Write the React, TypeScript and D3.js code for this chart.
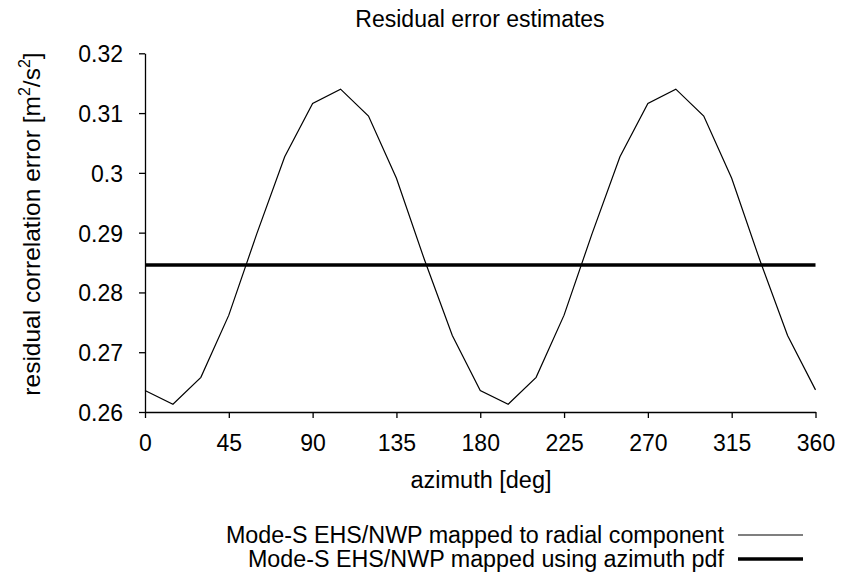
import React, { useEffect, useRef } from "react";
import * as d3 from "d3";

const azimuth = [0, 15, 30, 45, 60, 75, 90, 105, 120, 135, 150, 165, 180, 195, 210, 225, 240, 255, 270, 285, 300, 315, 330, 345, 360];
const radialError = [0.2636, 0.2613, 0.2658, 0.2762, 0.2898, 0.3027, 0.3116, 0.314, 0.3095, 0.2991, 0.2855, 0.2728, 0.2636, 0.2613, 0.2658, 0.2762, 0.2898, 0.3027, 0.3116, 0.314, 0.3095, 0.2991, 0.2855, 0.2728, 0.2637];
const pdfError = 0.2846;
const xTicks = [0, 45, 90, 135, 180, 225, 270, 315, 360];
const yTicks = [0.26, 0.27, 0.28, 0.29, 0.3, 0.31, 0.32];
const seriesNames = ["Mode-S EHS/NWP mapped to radial component", "Mode-S EHS/NWP mapped using azimuth pdf"];

const W = 841;
const H = 572;
const FONT = "'Liberation Sans', Arial, Helvetica, sans-serif";

export default function App() {
  const ref = useRef<SVGSVGElement>(null);
  useEffect(() => {
    const svg = d3.select(ref.current);
    svg.selectAll("*").remove();
    const x = d3.scaleLinear().domain([0, 360]).range([145, 815.5]);
    const y = d3.scaleLinear().domain([0.26, 0.32]).range([412, 53.3]);

    const gx = svg.append("g").attr("transform", `translate(0,${y(0.26)})`)
      .call(d3.axisBottom(x).tickValues(xTicks).tickSize(6).tickSizeOuter(0).tickPadding(17).tickFormat(d3.format("d")));
    const gy = svg.append("g").attr("transform", `translate(${x(0)},0)`)
      .call(d3.axisLeft(y).tickValues(yTicks).tickSize(6).tickSizeOuter(0).tickPadding(16).tickFormat((d: any) => String(+(+d).toFixed(2))));
    [gx, gy].forEach((g) => {
      g.selectAll("text").attr("font-size", 23).attr("font-family", FONT).attr("fill", "#000");
      g.selectAll("line").attr("stroke", "#000").attr("stroke-width", 1.3);
      g.select(".domain").attr("stroke", "#000").attr("stroke-width", 1.3);
    });
    gy.selectAll("text").attr("dy", "0.37em");

    const line = d3.line<number>().x((_, i) => x(azimuth[i])).y((d) => y(d));
    svg.append("path").datum(radialError).attr("d", line).attr("fill", "none").attr("stroke", "#000").attr("stroke-width", 1.2).attr("stroke-linejoin", "miter");
    svg.append("line").attr("x1", x(0)).attr("x2", x(360)).attr("y1", y(pdfError)).attr("y2", y(pdfError)).attr("stroke", "#000").attr("stroke-width", 3.5);

    svg.append("text").attr("x", 480).attr("y", 27).attr("text-anchor", "middle").attr("font-size", 23).attr("font-family", FONT).text("Residual error estimates");
    svg.append("text").attr("x", 481).attr("y", 488).attr("text-anchor", "middle").attr("font-size", 23.5).attr("font-family", FONT).text("azimuth [deg]");

    const yl = svg.append("text").attr("transform", `translate(40,${224}) rotate(-90)`).attr("text-anchor", "middle").attr("font-size", 24.5).attr("font-family", FONT);
    yl.append("tspan").text("residual correlation error [m");
    yl.append("tspan").attr("font-size", 16).attr("dy", -10).text("2");
    yl.append("tspan").attr("dy", 10).text("/s");
    yl.append("tspan").attr("font-size", 16).attr("dy", -10).text("2");
    yl.append("tspan").attr("dy", 10).text("]");

    const legY = [535, 559];
    const widths = [1.2, 3.5];
    seriesNames.forEach((name, i) => {
      svg.append("text").attr("x", 724).attr("y", legY[i] + 8).attr("text-anchor", "end").attr("font-size", 23.3).attr("font-family", FONT).text(name);
      svg.append("line").attr("x1", 738).attr("x2", 803).attr("y1", legY[i]).attr("y2", legY[i]).attr("stroke", "#000").attr("stroke-width", widths[i]);
    });
  }, []);
  return <svg ref={ref} width={W} height={H} style={{ position: "absolute", left: 0, top: 0, background: "#fff" }} />;
}
